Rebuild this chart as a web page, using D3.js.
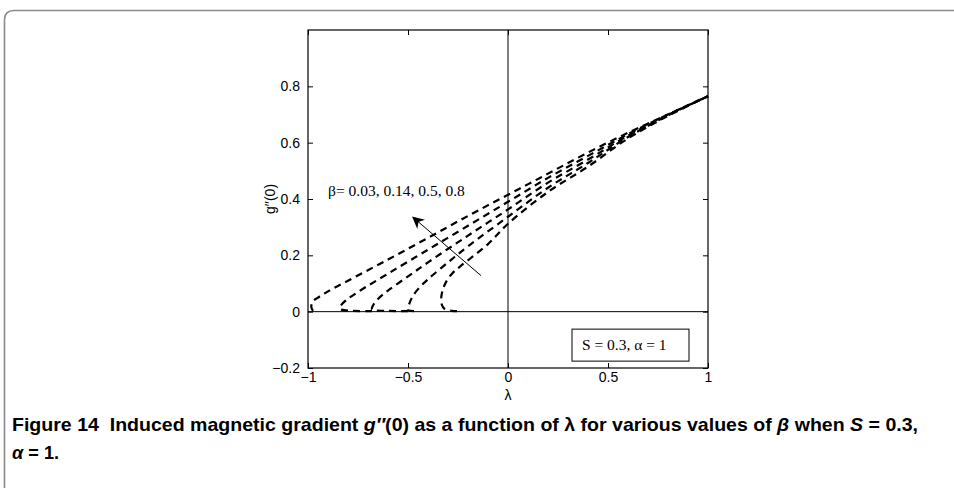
<!DOCTYPE html>
<html>
<head>
<meta charset="utf-8">
<script src="https://cdn.jsdelivr.net/npm/d3@7"></script>
<style>
  body { margin: 0; background: #fff; }
  svg { display: block; }
</style>
</head>
<body>
<div id="chart-container"></div>
<script>
// g''(0) versus lambda, five dashed solution curves (upper + lower branch)
const curve1 = [[-0.975, 0.003], [-0.983, 0.015], [-0.978, 0.035], [-0.95, 0.05], [-0.9, 0.072], [-0.8, 0.11], [-0.6, 0.185], [-0.4, 0.262], [-0.2, 0.34], [0, 0.415], [0.2, 0.49], [0.4, 0.565], [0.6, 0.635], [0.8, 0.70], [1, 0.765]];
const curve2 = [[-0.68, 0.002], [-0.8, 0.004], [-0.84, 0.01], [-0.835, 0.022], [-0.81, 0.04], [-0.75, 0.07], [-0.6, 0.135], [-0.4, 0.22], [-0.2, 0.305], [0, 0.39], [0.2, 0.475], [0.4, 0.553], [0.6, 0.63], [0.8, 0.70], [1, 0.765]];
const curve3 = [[-0.5, 0.002], [-0.6, 0.003], [-0.68, 0.008], [-0.675, 0.022], [-0.65, 0.045], [-0.6, 0.075], [-0.5, 0.125], [-0.4, 0.175], [-0.2, 0.27], [0, 0.363], [0.2, 0.458], [0.4, 0.54], [0.6, 0.625], [0.8, 0.698], [1, 0.765]];
const curve4 = [[-0.47, 0.002], [-0.5, 0.006], [-0.495, 0.025], [-0.48, 0.05], [-0.45, 0.08], [-0.4, 0.115], [-0.3, 0.175], [-0.2, 0.232], [0, 0.337], [0.2, 0.44], [0.4, 0.528], [0.6, 0.62], [0.8, 0.697], [1, 0.765]];
const curve5 = [[-0.255, 0.002], [-0.28, 0.003], [-0.32, 0.012], [-0.333, 0.03], [-0.333, 0.055], [-0.325, 0.08], [-0.31, 0.105], [-0.28, 0.135], [-0.24, 0.16], [-0.1, 0.24], [0, 0.312], [0.2, 0.425], [0.4, 0.515], [0.6, 0.615], [0.8, 0.695], [1, 0.765]];
const curves = [curve1, curve2, curve3, curve4, curve5];

const xTicks = [-1, -0.5, 0, 0.5, 1];
const yTicks = [-0.2, 0, 0.2, 0.4, 0.6, 0.8];
const annotation = 'β= 0.03, 0.14, 0.5, 0.8';
const arrowFrom = [-0.135, 0.128];
const arrowTo = [-0.475, 0.335];
const boxText = 'S = 0.3, α = 1';

const W = 954, H = 488;
const margin = { top: 30, right: 246, bottom: 120, left: 308 };
const width = W - margin.left - margin.right;   // 400
const height = H - margin.top - margin.bottom;  // 338

const svg = d3.select('#chart-container').append('svg')
    .attr('width', W)
    .attr('height', H);

// figure frame (rounded top-left corner)
svg.append('path')
    .attr('d', 'M4.5,488 L4.5,20 Q4.5,10.5 14,10.5 L954,10.5')
    .attr('fill', 'none')
    .attr('stroke', '#8a8a8a')
    .attr('stroke-width', 1.6);

const g = svg.append('g')
    .attr('transform', `translate(${margin.left},${margin.top})`);

const xScale = d3.scaleLinear().domain([-1, 1]).range([0, width]);
const yScale = d3.scaleLinear().domain([-0.2, 1.0]).range([height, 0]);

const fmt = d => d === 0 ? '0' : d3.format('')(d).replace('-', '\u2212');
const tickFont = 'Liberation Sans, Arial, sans-serif';

// axes with inward ticks, MATLAB style
const xAxisB = d3.axisBottom(xScale).tickValues(xTicks).tickSizeInner(-5).tickSizeOuter(0).tickPadding(4).tickFormat(fmt);
const xAxisT = d3.axisTop(xScale).tickValues(xTicks).tickSizeInner(-5).tickSizeOuter(0).tickFormat('');
const yAxisL = d3.axisLeft(yScale).tickValues(yTicks).tickSizeInner(-5).tickSizeOuter(0).tickPadding(8).tickFormat(fmt);
const yAxisR = d3.axisRight(yScale).tickValues(yTicks).tickSizeInner(-5).tickSizeOuter(0).tickFormat('');

const axB = g.append('g').attr('transform', `translate(0,${height})`).call(xAxisB);
const axT = g.append('g').call(xAxisT);
const axL = g.append('g').call(yAxisL);
const axR = g.append('g').attr('transform', `translate(${width},0)`).call(yAxisR);

[axB, axT, axL, axR].forEach(ax => {
    ax.select('.domain').remove();
    ax.selectAll('line').attr('stroke', '#000');
    ax.selectAll('text').attr('fill', '#000')
        .style('font-family', tickFont).style('font-size', '14px');
});

// zero lines
g.append('line')
    .attr('x1', 0).attr('x2', width)
    .attr('y1', yScale(0)).attr('y2', yScale(0))
    .attr('stroke', '#000').attr('stroke-width', 1);
g.append('line')
    .attr('x1', xScale(0)).attr('x2', xScale(0))
    .attr('y1', 0).attr('y2', height)
    .attr('stroke', '#000').attr('stroke-width', 1);

// box
g.append('rect')
    .attr('x', 0).attr('y', 0)
    .attr('width', width).attr('height', height)
    .attr('fill', 'none')
    .attr('stroke', '#000')
    .attr('stroke-width', 1.2);

// curves
const line = d3.line()
    .x(d => xScale(d[0]))
    .y(d => yScale(d[1]))
    .curve(d3.curveCatmullRom.alpha(0.5));

g.selectAll('.curve')
    .data(curves)
    .enter().append('path')
    .attr('class', 'curve')
    .attr('d', line)
    .attr('fill', 'none')
    .attr('stroke', '#000')
    .attr('stroke-width', 2.2)
    .attr('stroke-dasharray', '7,5');

// arrow
svg.append('defs').append('marker')
    .attr('id', 'head')
    .attr('viewBox', '0 0 10 10')
    .attr('refX', 9).attr('refY', 5)
    .attr('markerWidth', 12).attr('markerHeight', 12)
    .attr('markerUnits', 'userSpaceOnUse')
    .attr('orient', 'auto')
    .append('path')
    .attr('d', 'M0,0 L10,5 L0,10 L3,5 Z')
    .attr('fill', '#000');

g.append('line')
    .attr('x1', xScale(arrowFrom[0])).attr('y1', yScale(arrowFrom[1]))
    .attr('x2', xScale(arrowTo[0])).attr('y2', yScale(arrowTo[1]))
    .attr('stroke', '#000').attr('stroke-width', 1)
    .attr('marker-end', 'url(#head)');

const serif = 'Liberation Serif, Times New Roman, serif';
g.append('text')
    .attr('x', xScale(-0.9)).attr('y', yScale(0.41))
    .style('font-family', serif).style('font-size', '15.5px')
    .text(annotation);

// parameter box
g.append('rect')
    .attr('x', xScale(0.32)).attr('y', yScale(-0.062))
    .attr('width', 117).attr('height', 32)
    .attr('fill', '#fff').attr('stroke', '#000').attr('stroke-width', 1);
g.append('text')
    .attr('x', xScale(0.37)).attr('y', yScale(-0.135))
    .style('font-family', serif).style('font-size', '15.5px')
    .text(boxText);

// axis labels
g.append('text')
    .attr('x', width / 2).attr('y', height + 32)
    .attr('text-anchor', 'middle')
    .style('font-family', tickFont).style('font-size', '14px')
    .text('λ');
g.append('text')
    .attr('transform', `translate(${-33},${yScale(0.4)}) rotate(-90)`)
    .attr('text-anchor', 'middle')
    .style('font-family', tickFont).style('font-size', '14px')
    .text('g′′(0)');

// caption
const capFont = 'Liberation Sans, Arial, sans-serif';
const cap1 = svg.append('text')
    .attr('x', 12).attr('y', 431)
    .style('font-family', capFont).style('font-size', '19px').style('font-weight', 'bold')
    .style('white-space', 'pre')
    .attr('textLength', 906).attr('lengthAdjust', 'spacingAndGlyphs');
cap1.append('tspan').text('Figure 14  Induced magnetic gradient ');
cap1.append('tspan').style('font-style', 'italic').text('g′′');
cap1.append('tspan').text('(0) as a function of λ for various values of ');
cap1.append('tspan').style('font-style', 'italic').text('β');
cap1.append('tspan').text(' when ');
cap1.append('tspan').style('font-style', 'italic').text('S');
cap1.append('tspan').text(' = 0.3,');

const cap2 = svg.append('text')
    .attr('x', 12).attr('y', 459)
    .style('font-family', capFont).style('font-size', '19px').style('font-weight', 'bold')
    .attr('textLength', 47).attr('lengthAdjust', 'spacingAndGlyphs');
cap2.append('tspan').style('font-style', 'italic').text('α');
cap2.append('tspan').text(' = 1.');
</script>
</body>
</html>
